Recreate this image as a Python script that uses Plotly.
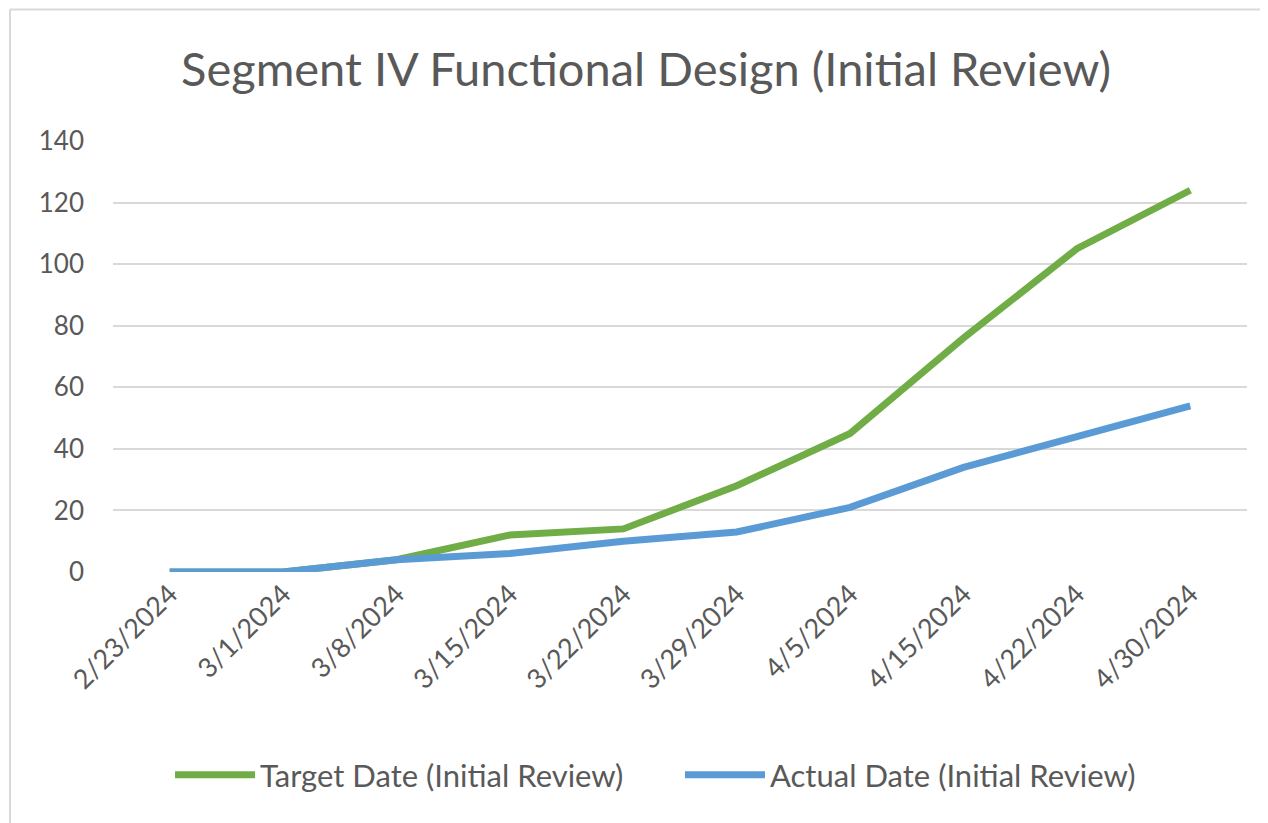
import plotly.graph_objects as go

dates = ["2/23/2024", "3/1/2024", "3/8/2024", "3/15/2024", "3/22/2024",
         "3/29/2024", "4/5/2024", "4/15/2024", "4/22/2024", "4/30/2024"]
target = [0, 0, 4, 12, 14, 28, 45, 76, 105, 124]
actual = [0, 0, 4, 6, 10, 13, 21, 34, 44, 54]
y_ticks = [0, 20, 40, 60, 80, 100, 120, 140]

OFF = 8  # default body margin of the html page
W, H = 1268 - OFF, 823 - OFF
# plot area in reference pixel coords
PX0, PX1, PY0, PY1 = 113, 1247, 141, 572
L, R, T, B = PX0 - OFF, 1268 - PX1, PY0 - OFF, 823 - PY1
pw, ph = PX1 - PX0, PY1 - PY0

def px(x):
    return (x - PX0) / pw

def py(y):
    return (PY1 - y) / ph

FONT = "Lato"
GRAY = "#595959"
BORDER = "#D9D9D9"

fig = go.Figure()
fig.add_trace(go.Scatter(x=dates, y=target, mode="lines", name="Target Date (Initial Review)",
                         line=dict(color="#70AD47", width=7)))
fig.add_trace(go.Scatter(x=dates, y=actual, mode="lines", name="Actual Date (Initial Review)",
                         line=dict(color="#5B9BD5", width=7)))

fig.update_layout(
    width=W, height=H,
    margin=dict(l=L, r=R, t=T, b=B),
    paper_bgcolor="white", plot_bgcolor="white",
    font=dict(family=FONT, color=GRAY),
    title=dict(text="Segment IV Functional Design (Initial Review)",
               font=dict(family=FONT, size=47, color=GRAY),
               x=(646 - OFF) / W, xref="container", xanchor="center",
               y=1 - (70 - OFF) / H, yref="container", yanchor="middle"),
    xaxis=dict(type="category", range=[-0.5, len(dates) - 0.5],
               tickangle=-45, tickfont=dict(size=27, color=GRAY),
               showgrid=False, showline=False, ticks="", zeroline=False),
    yaxis=dict(range=[0, 140], tickvals=y_ticks, tickfont=dict(size=26, color=GRAY),
               showgrid=True, gridcolor=BORDER, gridwidth=2,
               zeroline=False, showline=False, ticks="", ticklabelstandoff=28),
    legend=dict(orientation="h", x=px(170), xanchor="left", y=py(775), yanchor="middle",
                font=dict(size=31, color=GRAY), itemwidth=80, traceorder="normal",
                entrywidth=415),
    showlegend=True,
    shapes=[
        dict(type="line", xref="paper", yref="paper",
             x0=px(10), x1=px(10), y0=py(850), y1=py(9.5),
             line=dict(color=BORDER, width=2), layer="below"),
        dict(type="line", xref="paper", yref="paper",
             x0=px(10), x1=px(1270), y0=py(9.5), y1=py(9.5),
             line=dict(color=BORDER, width=2), layer="below"),
    ],
)

fig.write_html("out.html")
